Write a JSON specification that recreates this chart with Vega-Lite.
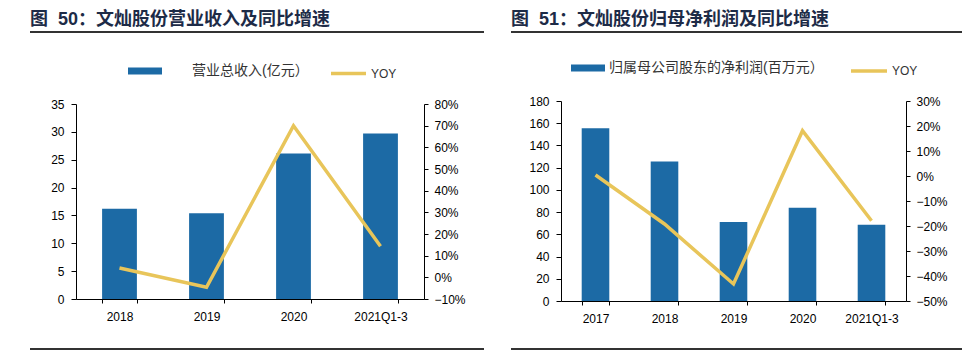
{
  "$schema": "https://vega.github.io/schema/vega-lite/v6.json",
  "padding": {"left": 29, "top": 10, "right": 0, "bottom": 2},
  "spacing": 25,
  "config": {
    "view": {"stroke": "#333333", "strokeWidth": 2, "strokeDash": [454, 317]},
    "title": {"anchor": "start", "frame": "group", "fontSize": 18, "font": "Liberation Sans, Noto Sans CJK SC", "fontWeight": "bold", "color": "#1d2b47", "offset": 3},
    "axis": {"labelFont": "Liberation Sans", "labelFontSize": 12, "labelColor": "#000000", "domainColor": "#000000", "tickColor": "#000000", "grid": false, "title": null, "minExtent": 0, "maxExtent": 500},
    "legend": {"padding": 0, "offset": 0, "labelFont": "Liberation Sans, Noto Sans CJK SC", "labelFontSize": 13, "labelColor": "#333333", "labelLimit": 400, "title": null, "orient": "none"}
  },
  "resolve": {"scale": {"fill": "independent", "stroke": "independent"}, "legend": {"fill": "independent", "stroke": "independent"}},
  "hconcat": [
    {
      "width": 454,
      "height": 317,
      "title": "图\u00a0\u00a050：文灿股份营业收入及同比增速",
      "data": {"values": [
        {"period": "2018", "value": 16.2, "yoy": 0.043},
        {"period": "2019", "value": 15.4, "yoy": -0.046},
        {"period": "2020", "value": 26.1, "yoy": 0.70},
        {"period": "2021Q1-3", "value": 29.7, "yoy": 0.143}
      ]},
      "encoding": {
        "x": {"field": "period", "type": "nominal", "sort": null,
          "scale": {"range": [46, 394], "paddingInner": 0.6, "paddingOuter": 0.3},
          "axis": {"orient": "bottom", "offset": -50, "labelAngle": 0, "tickBand": "extent", "tickSize": 4, "labelPadding": 8}}
      },
      "layer": [
        {
          "mark": {"type": "bar"},
          "encoding": {
            "y": {"field": "value", "type": "quantitative",
              "scale": {"domain": [0, 35], "range": [267, 72], "nice": false},
              "axis": {"orient": "left", "offset": -46, "values": [0, 5, 10, 15, 20, 25, 30, 35], "tickSize": 5, "labelPadding": 7}},
            "fill": {"datum": "营业总收入(亿元）", "type": "nominal", "scale": {"range": ["#1c6aa5"]},
              "legend": {"legendX": 98, "legendY": 22, "symbolType": "M-1,-0.2H1V0.2H-1Z", "symbolSize": 1156, "symbolStrokeWidth": 0, "labelOffset": 30, "labelFontSize": 14}}
          }
        },
        {
          "mark": {"type": "line", "strokeWidth": 3.5},
          "encoding": {
            "y": {"field": "yoy", "type": "quantitative",
              "scale": {"domain": [-0.1, 0.8], "range": [267, 72], "nice": false},
              "axis": {"orient": "right", "offset": -60, "format": ".0%", "values": [-0.1, 0, 0.1, 0.2, 0.3, 0.4, 0.5, 0.6, 0.7, 0.8], "tickSize": 4, "labelPadding": 6}},
            "stroke": {"datum": "YOY", "type": "nominal", "scale": {"range": ["#e8c55a"]},
              "legend": {"legendX": 299, "legendY": 22, "symbolType": "stroke", "symbolSize": 1225, "symbolStrokeWidth": 3.5, "labelOffset": 3, "labelFontSize": 12}}
          }
        }
      ],
      "resolve": {"scale": {"y": "independent"}}
    },
    {
      "width": 454,
      "height": 317,
      "title": "图\u00a0\u00a051：文灿股份归母净利润及同比增速",
      "data": {"values": [
        {"period": "2017", "value": 155.5, "yoy": 0.004},
        {"period": "2018", "value": 125.5, "yoy": -0.192},
        {"period": "2019", "value": 71, "yoy": -0.432},
        {"period": "2020", "value": 84, "yoy": 0.181},
        {"period": "2021Q1-3", "value": 68.7, "yoy": -0.179}
      ]},
      "encoding": {
        "x": {"field": "period", "type": "nominal", "sort": null,
          "scale": {"range": [50, 395], "paddingInner": 0.6, "paddingOuter": 0.3},
          "axis": {"orient": "bottom", "offset": -48, "labelAngle": 0, "tickBand": "extent", "tickSize": 4, "labelPadding": 8}}
      },
      "layer": [
        {
          "mark": {"type": "bar"},
          "encoding": {
            "y": {"field": "value", "type": "quantitative",
              "scale": {"domain": [0, 180], "range": [269, 69], "nice": false},
              "axis": {"orient": "left", "offset": -50, "values": [0, 20, 40, 60, 80, 100, 120, 140, 160, 180], "tickSize": 5, "labelPadding": 7}},
            "fill": {"datum": "归属母公司股东的净利润(百万元）", "type": "nominal", "scale": {"range": ["#1c6aa5"]},
              "legend": {"legendX": 60, "legendY": 19, "symbolType": "M-1,-0.2H1V0.2H-1Z", "symbolSize": 1156, "symbolStrokeWidth": 0, "labelOffset": 4, "labelFontSize": 14}}
          }
        },
        {
          "mark": {"type": "line", "strokeWidth": 3.5},
          "encoding": {
            "y": {"field": "yoy", "type": "quantitative",
              "scale": {"domain": [-0.5, 0.3], "range": [269, 69], "nice": false},
              "axis": {"orient": "right", "offset": -59, "format": ".0%", "values": [-0.5, -0.4, -0.3, -0.2, -0.1, 0, 0.1, 0.2, 0.3], "tickSize": 4, "labelPadding": 6}},
            "stroke": {"datum": "YOY", "type": "nominal", "scale": {"range": ["#e8c55a"]},
              "legend": {"legendX": 338, "legendY": 19, "symbolType": "stroke", "symbolSize": 1296, "symbolStrokeWidth": 3.5, "labelOffset": 3, "labelFontSize": 12}}
          }
        }
      ],
      "resolve": {"scale": {"y": "independent"}}
    }
  ]
}
